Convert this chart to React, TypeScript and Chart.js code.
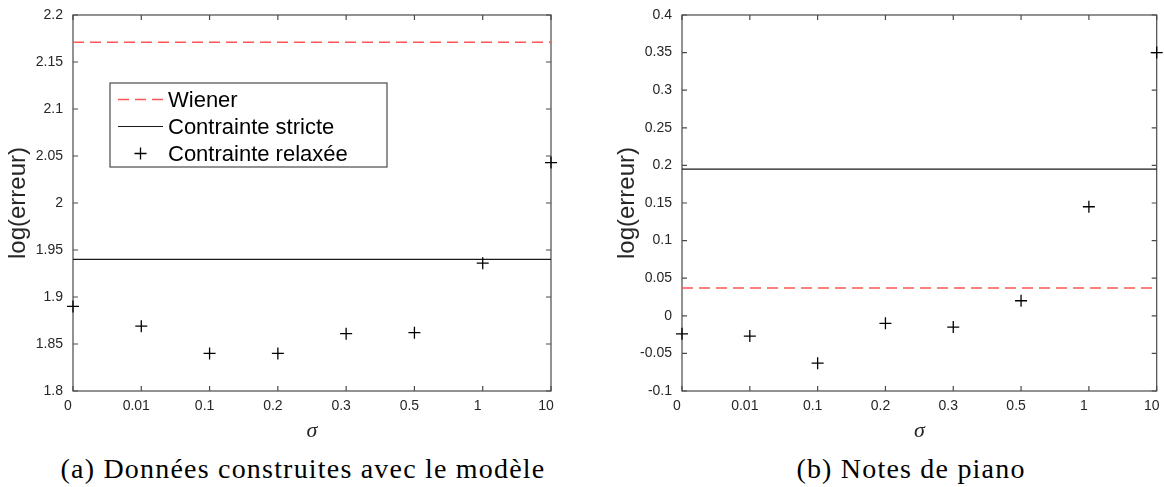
import React, { useEffect, useRef } from "react";
import { Chart, registerables } from "chart.js";

Chart.register(...registerables);

// ---------- data ----------
const sigmaLabels = ["0", "0.01", "0.1", "0.2", "0.3", "0.5", "1", "10"];

const leftWiener = [2.171, 2.171, 2.171, 2.171, 2.171, 2.171, 2.171, 2.171];
const leftStricte = [1.94, 1.94, 1.94, 1.94, 1.94, 1.94, 1.94, 1.94];
const leftRelaxee = [1.89, 1.869, 1.84, 1.84, 1.861, 1.862, 1.936, 2.043];
const leftYTicks = [1.8, 1.85, 1.9, 1.95, 2, 2.05, 2.1, 2.15, 2.2];

const rightWiener = [0.037, 0.037, 0.037, 0.037, 0.037, 0.037, 0.037, 0.037];
const rightStricte = [0.195, 0.195, 0.195, 0.195, 0.195, 0.195, 0.195, 0.195];
const rightRelaxee = [-0.024, -0.027, -0.063, -0.01, -0.015, 0.02, 0.145, 0.35];
const rightYTicks = [-0.1, -0.05, 0, 0.05, 0.1, 0.15, 0.2, 0.25, 0.3, 0.35, 0.4];

const seriesNames = ["Wiener", "Contrainte stricte", "Contrainte relaxée"];
const yTitle = "log(erreur)";
const xTitle = "σ";
const captions = ["(a) Données construites avec le modèle", "(b) Notes de piano"];

const AXIS_COLOR = "#4a4a4a";
const TEXT_COLOR = "#262626";
const SANS = "'Liberation Sans', Arial, Helvetica, sans-serif";

// ---------- plugins ----------
const frameTicksPlugin = {
  id: "frameTicks",
  beforeDatasetsDraw(chart: any) {
    const { ctx, chartArea } = chart;
    const { left, right, top, bottom } = chartArea;
    const xs = chart.scales.x;
    const ys = chart.scales.y;
    const tl = 5;
    ctx.save();
    ctx.strokeStyle = AXIS_COLOR;
    ctx.lineWidth = 1.2;
    ctx.strokeRect(left, top, right - left, bottom - top);
    ctx.beginPath();
    xs.ticks.forEach((_t: any, i: number) => {
      const px = xs.getPixelForTick(i);
      ctx.moveTo(px, bottom);
      ctx.lineTo(px, bottom - tl);
      ctx.moveTo(px, top);
      ctx.lineTo(px, top + tl);
    });
    ys.ticks.forEach((t: any) => {
      const py = ys.getPixelForValue(t.value);
      ctx.moveTo(left, py);
      ctx.lineTo(left + tl, py);
      ctx.moveTo(right, py);
      ctx.lineTo(right - tl, py);
    });
    ctx.stroke();
    ctx.restore();
  },
};

const boxLegendPlugin = {
  id: "boxLegend",
  afterDraw(chart: any, _args: any, opts: any) {
    if (!opts || !opts.show) return;
    const { ctx } = chart;
    const { x, y, w, h, first, rowH, sx0, sx1, tx } = opts;
    ctx.save();
    ctx.fillStyle = "#ffffff";
    ctx.fillRect(x, y, w, h);
    ctx.strokeStyle = AXIS_COLOR;
    ctx.lineWidth = 1.2;
    ctx.strokeRect(x, y, w, h);
    chart.data.datasets.forEach((ds: any, i: number) => {
      const cy = y + first + i * rowH;
      ctx.strokeStyle = ds.borderColor;
      if (ds.showLine === false) {
        const cx = (sx0 + sx1) / 2;
        const r = ds.pointRadius;
        ctx.lineWidth = ds.borderWidth;
        ctx.setLineDash([]);
        ctx.beginPath();
        ctx.moveTo(cx - r, cy);
        ctx.lineTo(cx + r, cy);
        ctx.moveTo(cx, cy - r);
        ctx.lineTo(cx, cy + r);
        ctx.stroke();
      } else {
        ctx.lineWidth = ds.borderWidth;
        ctx.setLineDash(ds.borderDash || []);
        ctx.beginPath();
        ctx.moveTo(sx0, cy);
        ctx.lineTo(sx1, cy);
        ctx.stroke();
        ctx.setLineDash([]);
      }
      ctx.fillStyle = "#000000";
      ctx.font = `22px ${SANS}`;
      ctx.textBaseline = "middle";
      ctx.textAlign = "left";
      ctx.fillText(ds.label, tx, cy + 1);
    });
    ctx.restore();
  },
};

function fmt(v: number) {
  return String(Number(v.toFixed(2)));
}

function makeConfig(
  wiener: number[],
  stricte: number[],
  relaxee: number[],
  yTicks: number[],
  padRight: number,
  legend: any
) {
  return {
    type: "line" as const,
    data: {
      labels: sigmaLabels,
      datasets: [
        {
          label: seriesNames[0],
          data: wiener,
          borderColor: "rgb(255,85,85)",
          borderWidth: 1.5,
          borderDash: [11, 6],
          pointRadius: 0,
          fill: false,
          order: 3,
        },
        {
          label: seriesNames[1],
          data: stricte,
          borderColor: "#1a1a1a",
          borderWidth: 1.2,
          pointRadius: 0,
          fill: false,
          order: 2,
        },
        {
          label: seriesNames[2],
          data: relaxee,
          showLine: false,
          borderColor: "#000000",
          backgroundColor: "#000000",
          borderWidth: 1.3,
          pointStyle: "cross",
          pointRadius: 6,
          clip: false,
          order: 1,
        },
      ],
    },
    options: {
      responsive: false,
      animation: false,
      events: [],
      layout: { padding: { top: 15, right: padRight, left: 0, bottom: 0 } },
      plugins: {
        legend: { display: false },
        tooltip: { enabled: false },
        boxLegend: legend,
      },
      scales: {
        x: {
          type: "category",
          offset: false,
          grid: { display: false, drawTicks: false },
          border: { display: false },
          ticks: {
            color: TEXT_COLOR,
            font: { size: 14, family: SANS },
            padding: 7,
            labelOffset: -5,
            maxRotation: 0,
            autoSkip: false,
          },
          title: {
            display: true,
            text: xTitle,
            color: TEXT_COLOR,
            font: { size: 22, family: "'Liberation Serif', 'DejaVu Serif', serif", style: "italic" },
            padding: { top: 0, bottom: 1 },
          },
          afterFit(scale: any) {
            scale.height = 54;
            scale.paddingLeft = 0;
            scale.paddingRight = 0;
          },
        },
        y: {
          type: "linear",
          min: yTicks[0],
          max: yTicks[yTicks.length - 1],
          grid: { display: false, drawTicks: false },
          border: { display: false },
          afterBuildTicks(scale: any) {
            scale.ticks = yTicks.map((v) => ({ value: v }));
          },
          ticks: {
            color: TEXT_COLOR,
            font: { size: 14, family: SANS },
            padding: 10,
            callback: (v: any) => fmt(Number(v)),
          },
          title: {
            display: true,
            text: yTitle,
            color: TEXT_COLOR,
            font: { size: 24, family: SANS },
            padding: { top: 4, bottom: 0 },
          },
          afterFit(scale: any) {
            scale.width = 73;
            scale.paddingTop = 0;
            scale.paddingBottom = 0;
          },
        },
      },
    },
    plugins: [frameTicksPlugin, boxLegendPlugin],
  };
}

function ChartCanvas(props: {
  left: number;
  width: number;
  height: number;
  config: any;
}) {
  const ref = useRef<HTMLCanvasElement | null>(null);
  useEffect(() => {
    if (!ref.current) return;
    const chart = new Chart(ref.current, props.config);
    return () => chart.destroy();
  }, []);
  return (
    <canvas
      ref={ref}
      width={props.width}
      height={props.height}
      style={{
        position: "absolute",
        left: props.left,
        top: 0,
        width: props.width,
        height: props.height,
        display: "block",
      }}
    />
  );
}

export default function App() {
  const leftCfg = makeConfig(leftWiener, leftStricte, leftRelaxee, leftYTicks, 9, {
    show: true,
    x: 110,
    y: 83,
    w: 277,
    h: 84,
    first: 16.5,
    rowH: 27,
    sx0: 118,
    sx1: 163,
    tx: 168,
  });
  const rightCfg = makeConfig(rightWiener, rightStricte, rightRelaxee, rightYTicks, 2, {
    show: false,
  });
  const captionStyle: React.CSSProperties = {
    position: "absolute",
    top: 455,
    fontFamily: "'Liberation Serif', 'DejaVu Serif', serif",
    fontSize: 28,
    lineHeight: "28px",
    letterSpacing: "1.2px",
    color: "#000",
    textAlign: "center",
    whiteSpace: "nowrap",
  };
  return (
    <div
      style={{
        position: "absolute",
        left: 0,
        top: 0,
        width: 1164,
        height: 487,
        background: "#fff",
        overflow: "hidden",
      }}
    >
      <ChartCanvas left={0} width={560} height={445} config={leftCfg} />
      <ChartCanvas left={609} width={555} height={445} config={rightCfg} />
      <div style={{ ...captionStyle, left: 0, width: 606 }}>{captions[0]}</div>
      <div style={{ ...captionStyle, left: 700, width: 422 }}>{captions[1]}</div>
    </div>
  );
}
